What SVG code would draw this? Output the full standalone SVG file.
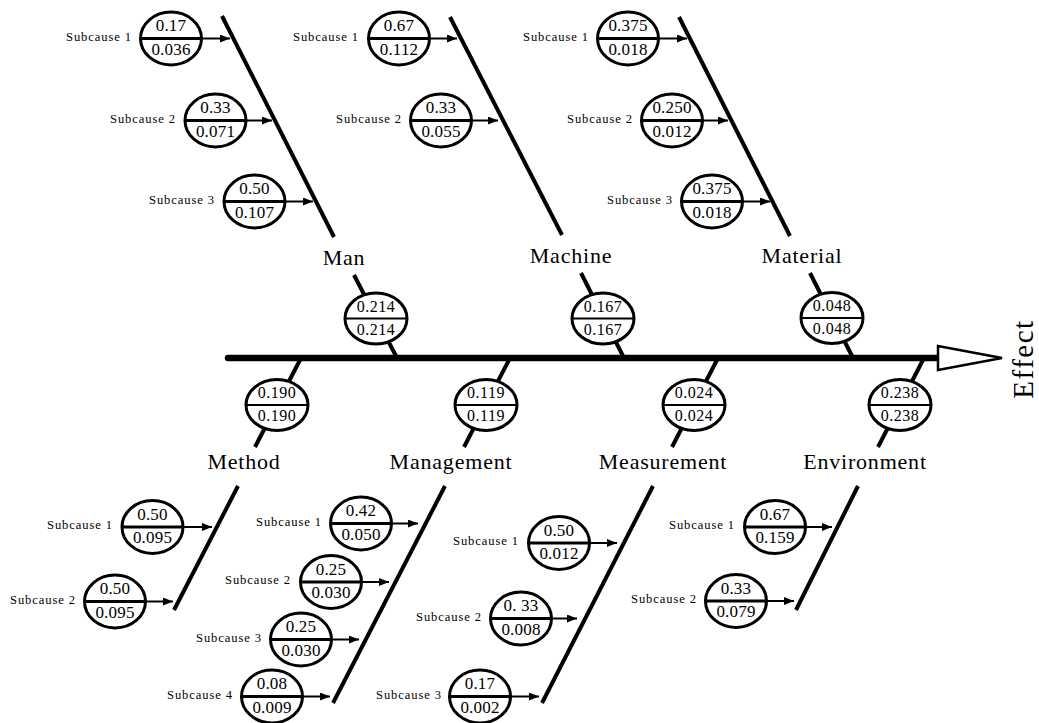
<svg xmlns="http://www.w3.org/2000/svg" width="1039" height="723" viewBox="0 0 1039 723">
<style>
.bone{stroke:#000;stroke-width:4;fill:none}
.spine{stroke:#000;stroke-width:6.5;stroke-linecap:round;fill:none}
.arrow{stroke:#000;stroke-width:2;fill:none;marker-end:url(#ah)}
.ell{fill:#fff;stroke:#000;stroke-width:3}
.div{stroke:#000;stroke-width:3}
.mdiv{stroke:#000;stroke-width:2}
text{font-family:"Liberation Serif","Times New Roman",serif;fill:#000}
.num{font-size:17px;text-anchor:middle;letter-spacing:0.2px}
.mnum{font-size:16px;text-anchor:middle;letter-spacing:0.5px}
.lab{font-size:12.6px;letter-spacing:0.9px;text-anchor:end}
.cat{font-size:22px;letter-spacing:0.8px;text-anchor:middle}
.eff{font-size:29px;letter-spacing:1.5px;text-anchor:middle}
</style>
<defs>
<marker id="ah" markerUnits="userSpaceOnUse" markerWidth="10" markerHeight="8" refX="10" refY="4" orient="auto">
<path d="M0,0 L10,4 L0,8 Z" fill="#000"/>
</marker>
</defs>
<rect width="1039" height="723" fill="#fff"/>
<g id="connectors">
<line class="spine" x1="228" y1="358" x2="940" y2="358"/>
<polygon points="938,346 1002,358 938,370" fill="#fff" stroke="#000" stroke-width="2.5"/>
<line class="bone" x1="354" y1="275" x2="397" y2="358"/>
<line class="bone" x1="581" y1="273" x2="624" y2="358"/>
<line class="bone" x1="810" y1="273" x2="853" y2="358"/>
<line class="bone" x1="301" y1="358" x2="255" y2="447"/>
<line class="bone" x1="510" y1="358" x2="464" y2="447"/>
<line class="bone" x1="718" y1="358" x2="672" y2="447"/>
<line class="bone" x1="924" y1="358" x2="878" y2="447"/>
<line class="bone" x1="222" y1="16" x2="334" y2="237"/>
<line class="bone" x1="450" y1="17" x2="562" y2="235"/>
<line class="bone" x1="679" y1="17" x2="790" y2="236"/>
<line class="bone" x1="238" y1="486" x2="174" y2="610"/>
<line class="bone" x1="445" y1="486" x2="333" y2="703"/>
<line class="bone" x1="653" y1="486" x2="542" y2="703"/>
<line class="bone" x1="858" y1="486" x2="796" y2="610"/>
<line class="arrow" x1="201.5" y1="38.5" x2="230" y2="38.5"/>
<line class="arrow" x1="246" y1="120.5" x2="272" y2="120.5"/>
<line class="arrow" x1="285" y1="201.5" x2="313" y2="201.5"/>
<line class="arrow" x1="429.5" y1="38.5" x2="457" y2="38.5"/>
<line class="arrow" x1="471.5" y1="120.5" x2="498" y2="120.5"/>
<line class="arrow" x1="658.5" y1="38.5" x2="687" y2="38.5"/>
<line class="arrow" x1="702.5" y1="120.5" x2="728" y2="120.5"/>
<line class="arrow" x1="742.5" y1="201.5" x2="770" y2="201.5"/>
<line class="arrow" x1="183" y1="527" x2="212" y2="527"/>
<line class="arrow" x1="145.5" y1="601.5" x2="173" y2="601.5"/>
<line class="arrow" x1="391.5" y1="523.5" x2="418" y2="523.5"/>
<line class="arrow" x1="361.5" y1="582" x2="389" y2="582"/>
<line class="arrow" x1="331.5" y1="639.5" x2="359" y2="639.5"/>
<line class="arrow" x1="302.5" y1="696.5" x2="330" y2="696.5"/>
<line class="arrow" x1="589.5" y1="543" x2="617" y2="543"/>
<line class="arrow" x1="551.5" y1="618.5" x2="577" y2="618.5"/>
<line class="arrow" x1="510.5" y1="696.5" x2="539" y2="696.5"/>
<line class="arrow" x1="805.5" y1="527" x2="832" y2="527"/>
<line class="arrow" x1="766.5" y1="601" x2="794" y2="601"/>
</g>
<g id="effect"><text class="eff" transform="translate(1033,359) rotate(-90)">Effect</text></g>
<g id="man"><text class="cat" x="344" y="265">Man</text>
<ellipse class="ell" cx="376" cy="318.5" rx="31" ry="25.5"/><line class="mdiv" x1="345" y1="318.5" x2="407" y2="318.5"/>
<text class="mnum" x="376" y="311.5">0.214</text><text class="mnum" x="376" y="334.5">0.214</text></g>
<g id="machine"><text class="cat" x="571" y="263">Machine</text>
<ellipse class="ell" cx="603" cy="318.5" rx="31" ry="25.5"/><line class="mdiv" x1="572" y1="318.5" x2="634" y2="318.5"/>
<text class="mnum" x="603" y="311.5">0.167</text><text class="mnum" x="603" y="334.5">0.167</text></g>
<g id="material"><text class="cat" x="802" y="263">Material</text>
<ellipse class="ell" cx="832" cy="318" rx="31" ry="25.5"/><line class="mdiv" x1="801" y1="318" x2="863" y2="318"/>
<text class="mnum" x="832" y="311">0.048</text><text class="mnum" x="832" y="334">0.048</text></g>
<g id="method"><text class="cat" x="244" y="469">Method</text>
<ellipse class="ell" cx="277" cy="405" rx="31" ry="25.5"/><line class="mdiv" x1="246" y1="405" x2="308" y2="405"/>
<text class="mnum" x="277" y="398">0.190</text><text class="mnum" x="277" y="421">0.190</text></g>
<g id="management"><text class="cat" x="451" y="469">Management</text>
<ellipse class="ell" cx="486" cy="405" rx="31" ry="25.5"/><line class="mdiv" x1="455" y1="405" x2="517" y2="405"/>
<text class="mnum" x="486" y="398">0.119</text><text class="mnum" x="486" y="421">0.119</text></g>
<g id="measurement"><text class="cat" x="663" y="469">Measurement</text>
<ellipse class="ell" cx="694" cy="405" rx="31" ry="25.5"/><line class="mdiv" x1="663" y1="405" x2="725" y2="405"/>
<text class="mnum" x="694" y="398">0.024</text><text class="mnum" x="694" y="421">0.024</text></g>
<g id="environment"><text class="cat" x="865" y="469">Environment</text>
<ellipse class="ell" cx="900" cy="405" rx="31" ry="25.5"/><line class="mdiv" x1="869" y1="405" x2="931" y2="405"/>
<text class="mnum" x="900" y="398">0.238</text><text class="mnum" x="900" y="421">0.238</text></g>
<g id="man-s1"><text class="lab" x="132" y="40.5">Subcause 1</text><ellipse class="ell" cx="171" cy="38.5" rx="30.5" ry="26.5"/><line class="div" x1="140.5" y1="38.5" x2="201.5" y2="38.5"/><text class="num" x="171" y="31">0.17</text><text class="num" x="171" y="54.5">0.036</text></g>
<g id="man-s2"><text class="lab" x="176" y="122.5">Subcause 2</text><ellipse class="ell" cx="215.5" cy="120.5" rx="30.5" ry="26.5"/><line class="div" x1="185" y1="120.5" x2="246" y2="120.5"/><text class="num" x="215.5" y="113">0.33</text><text class="num" x="215.5" y="136.5">0.071</text></g>
<g id="man-s3"><text class="lab" x="215" y="203.5">Subcause 3</text><ellipse class="ell" cx="254.5" cy="201.5" rx="30.5" ry="26.5"/><line class="div" x1="224" y1="201.5" x2="285" y2="201.5"/><text class="num" x="254.5" y="194">0.50</text><text class="num" x="254.5" y="217.5">0.107</text></g>
<g id="machine-s1"><text class="lab" x="359" y="40.5">Subcause 1</text><ellipse class="ell" cx="399" cy="38.5" rx="30.5" ry="26.5"/><line class="div" x1="368.5" y1="38.5" x2="429.5" y2="38.5"/><text class="num" x="399" y="31">0.67</text><text class="num" x="399" y="54.5">0.112</text></g>
<g id="machine-s2"><text class="lab" x="402" y="122.5">Subcause 2</text><ellipse class="ell" cx="441" cy="120.5" rx="30.5" ry="26.5"/><line class="div" x1="410.5" y1="120.5" x2="471.5" y2="120.5"/><text class="num" x="441" y="113">0.33</text><text class="num" x="441" y="136.5">0.055</text></g>
<g id="material-s1"><text class="lab" x="589" y="40.5">Subcause 1</text><ellipse class="ell" cx="628" cy="38.5" rx="30.5" ry="26.5"/><line class="div" x1="597.5" y1="38.5" x2="658.5" y2="38.5"/><text class="num" x="628" y="31">0.375</text><text class="num" x="628" y="54.5">0.018</text></g>
<g id="material-s2"><text class="lab" x="633" y="122.5">Subcause 2</text><ellipse class="ell" cx="672" cy="120.5" rx="30.5" ry="26.5"/><line class="div" x1="641.5" y1="120.5" x2="702.5" y2="120.5"/><text class="num" x="672" y="113">0.250</text><text class="num" x="672" y="136.5">0.012</text></g>
<g id="material-s3"><text class="lab" x="673" y="203.5">Subcause 3</text><ellipse class="ell" cx="712" cy="201.5" rx="30.5" ry="26.5"/><line class="div" x1="681.5" y1="201.5" x2="742.5" y2="201.5"/><text class="num" x="712" y="194">0.375</text><text class="num" x="712" y="217.5">0.018</text></g>
<g id="method-s1"><text class="lab" x="113" y="529">Subcause 1</text><ellipse class="ell" cx="152.5" cy="527" rx="30.5" ry="26.5"/><line class="div" x1="122" y1="527" x2="183" y2="527"/><text class="num" x="152.5" y="519.5">0.50</text><text class="num" x="152.5" y="543">0.095</text></g>
<g id="method-s2"><text class="lab" x="76" y="603.5">Subcause 2</text><ellipse class="ell" cx="115" cy="601.5" rx="30.5" ry="26.5"/><line class="div" x1="84.5" y1="601.5" x2="145.5" y2="601.5"/><text class="num" x="115" y="594">0.50</text><text class="num" x="115" y="617.5">0.095</text></g>
<g id="management-s1"><text class="lab" x="322" y="525.5">Subcause 1</text><ellipse class="ell" cx="361" cy="523.5" rx="30.5" ry="26.5"/><line class="div" x1="330.5" y1="523.5" x2="391.5" y2="523.5"/><text class="num" x="361" y="516">0.42</text><text class="num" x="361" y="539.5">0.050</text></g>
<g id="management-s2"><text class="lab" x="291" y="584">Subcause 2</text><ellipse class="ell" cx="331" cy="582" rx="30.5" ry="26.5"/><line class="div" x1="300.5" y1="582" x2="361.5" y2="582"/><text class="num" x="331" y="574.5">0.25</text><text class="num" x="331" y="598">0.030</text></g>
<g id="management-s3"><text class="lab" x="262" y="641.5">Subcause 3</text><ellipse class="ell" cx="301" cy="639.5" rx="30.5" ry="26.5"/><line class="div" x1="270.5" y1="639.5" x2="331.5" y2="639.5"/><text class="num" x="301" y="632">0.25</text><text class="num" x="301" y="655.5">0.030</text></g>
<g id="management-s4"><text class="lab" x="233" y="698.5">Subcause 4</text><ellipse class="ell" cx="272" cy="696.5" rx="30.5" ry="26.5"/><line class="div" x1="241.5" y1="696.5" x2="302.5" y2="696.5"/><text class="num" x="272" y="689">0.08</text><text class="num" x="272" y="712.5">0.009</text></g>
<g id="measurement-s1"><text class="lab" x="519" y="545">Subcause 1</text><ellipse class="ell" cx="559" cy="543" rx="30.5" ry="26.5"/><line class="div" x1="528.5" y1="543" x2="589.5" y2="543"/><text class="num" x="559" y="535.5">0.50</text><text class="num" x="559" y="559">0.012</text></g>
<g id="measurement-s2"><text class="lab" x="482" y="620.5">Subcause 2</text><ellipse class="ell" cx="521" cy="618.5" rx="30.5" ry="26.5"/><line class="div" x1="490.5" y1="618.5" x2="551.5" y2="618.5"/><text class="num" x="521" y="611">0. 33</text><text class="num" x="521" y="634.5">0.008</text></g>
<g id="measurement-s3"><text class="lab" x="442" y="698.5">Subcause 3</text><ellipse class="ell" cx="480" cy="696.5" rx="30.5" ry="26.5"/><line class="div" x1="449.5" y1="696.5" x2="510.5" y2="696.5"/><text class="num" x="480" y="689">0.17</text><text class="num" x="480" y="712.5">0.002</text></g>
<g id="environment-s1"><text class="lab" x="735" y="529">Subcause 1</text><ellipse class="ell" cx="775" cy="527" rx="30.5" ry="26.5"/><line class="div" x1="744.5" y1="527" x2="805.5" y2="527"/><text class="num" x="775" y="519.5">0.67</text><text class="num" x="775" y="543">0.159</text></g>
<g id="environment-s2"><text class="lab" x="697" y="603">Subcause 2</text><ellipse class="ell" cx="736" cy="601" rx="30.5" ry="26.5"/><line class="div" x1="705.5" y1="601" x2="766.5" y2="601"/><text class="num" x="736" y="593.5">0.33</text><text class="num" x="736" y="617">0.079</text></g>
</svg>
